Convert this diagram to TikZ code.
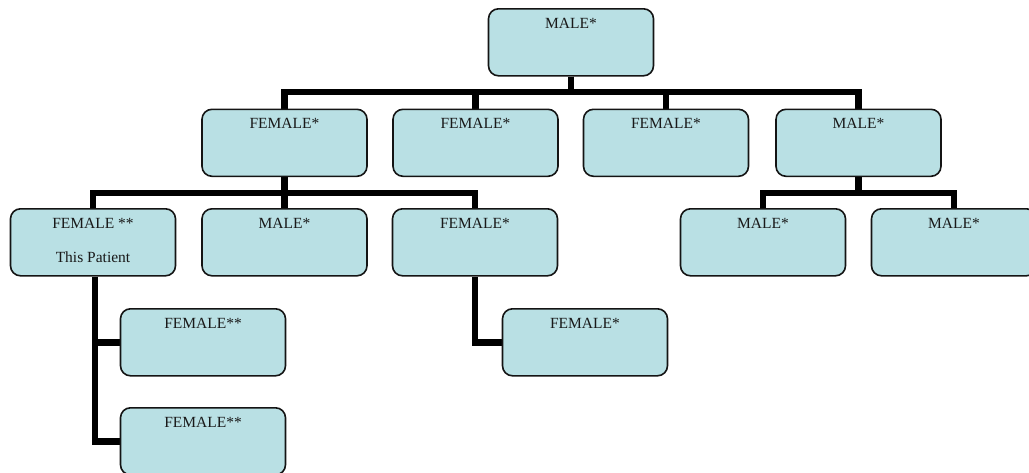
\documentclass[tikz,border=0pt]{standalone}
\usepackage{fontspec}
\setmainfont{Liberation Serif}
\usetikzlibrary{backgrounds}
\definecolor{boxfill}{RGB}{185,224,228}
\definecolor{boxline}{RGB}{20,20,20}
\tikzset{
  famebox/.style={draw=boxline, line width=1.6pt, fill=boxfill, rounded corners=10pt,
    minimum width=165pt, minimum height=67pt, inner sep=0pt, anchor=north},
  lbl/.style={anchor=base, font=\fontsize{15.5}{18}\selectfont, inner sep=0pt, text=black!90},
  famtxt/.style={label={[lbl,yshift=-20pt]north:{#1}}},
  famtxtb/.style={label={[lbl,yshift=-54pt]north:{#1}}},
  conn/.style={line width=6.5pt, line join=miter, black}
}
\begin{document}
\begin{tikzpicture}[x=1pt,y=-1pt]
\useasboundingbox (0,0) rectangle (1029,472);
\clip (0,0) rectangle (1029,472);
% row 1
\node[famebox,famtxt={MALE*}] (top) at (571,8) {};
% row 2
\node[famebox,famtxt={FEMALE*}] (f1) at (284.5,108.5) {};
\node[famebox,famtxt={FEMALE*}] (f2) at (475.5,108.5) {};
\node[famebox,famtxt={FEMALE*}] (f3) at (666,108.5) {};
\node[famebox,famtxt={MALE*}] (m1) at (858.5,108.5) {};
% row 3
\node[famebox,famtxt={FEMALE **},famtxtb={This Patient}] (pat) at (93,208) {};
\node[famebox,famtxt={MALE*}] (m2) at (284.5,208) {};
\node[famebox,famtxt={FEMALE*}] (f4) at (475,208) {};
\node[famebox,famtxt={MALE*}] (m3) at (763,208) {};
\node[famebox,famtxt={MALE*}] (m4) at (954,208) {};
% row 4/5
\node[famebox,famtxt={FEMALE**}] (g1) at (203,308) {};
\node[famebox,famtxt={FEMALE**}] (g2) at (203,407) {};
\node[famebox,famtxt={FEMALE*}] (f5) at (585,308) {};
% buses
\coordinate (bus1) at (0,92);
\coordinate (bus2) at (0,193);
\begin{scope}[on background layer]
\foreach \c in {f1,f2,f3,m1}
  \draw[conn] (top.south) -- (top.south |- bus1) -| (\c.north);
\foreach \c in {pat,m2,f4}
  \draw[conn] (f1.south) -- (f1.south |- bus2) -| (\c.north);
\foreach \c in {m3,m4}
  \draw[conn] (m1.south) -- (m1.south |- bus2) -| (\c.north);
\draw[conn] ([xshift=2pt]pat.south) |- (g1.west);
\draw[conn] ([xshift=2pt]pat.south) |- (g2.west);
\draw[conn] (f4.south) |- (f5.west);
\end{scope}
\end{tikzpicture}
\end{document}
